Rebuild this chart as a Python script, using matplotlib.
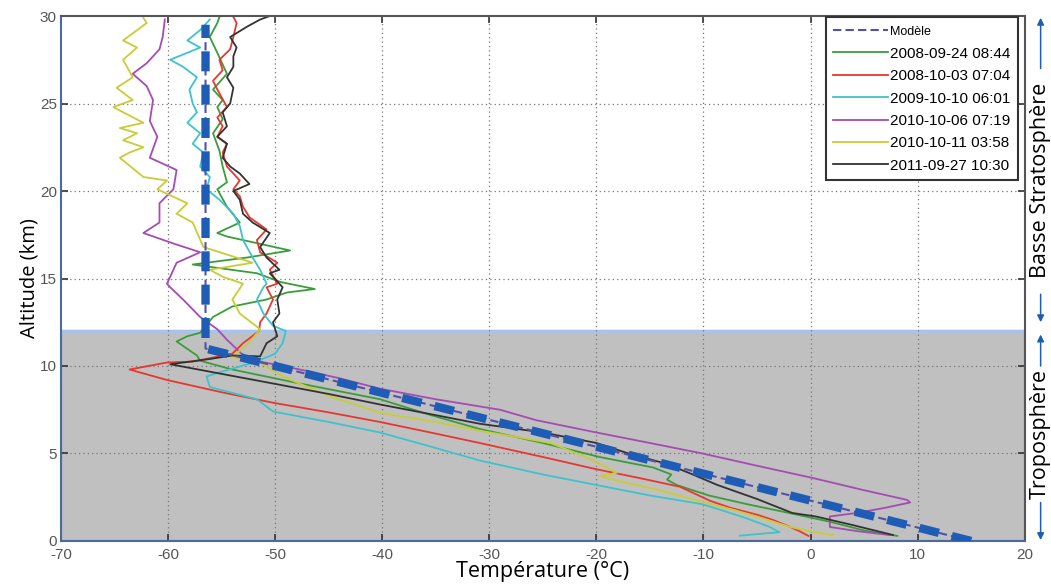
import numpy as np
import matplotlib
matplotlib.use('Agg')
import matplotlib.pyplot as plt
from matplotlib.patches import Rectangle

plt.rcParams['axes.unicode_minus'] = False

# ---------------- data (temperature in degC, altitude in km) ----------------
model_T = [15, -56.5, -56.5]
model_h = [0, 11, 29.5]

green_T = [8.1, 5.0, 1.8, -2.0, -5.9, -9.5, -12.5, -13.4, -13.0, -14.7, -19.7, -25.0, -30.9,
           -35.5, -40.2, -47.7, -54.0, -57.0, -57.3, -59.2, -58.2, -57.0, -55.8, -54.0, -50.8,
           -48.9, -46.3, -49.5, -51.7, -57.7, -52.6, -48.6, -54.5, -55.4, -53.3, -54.5, -55.4,
           -54.5, -54.9, -55.2, -55.8, -54.9, -55.4, -54.9, -55.8, -54.5, -55.4, -56.1, -55.4, -55.2]
green_h = [0.29, 0.6, 1.1, 1.6, 2.1, 2.6, 3.2, 3.5, 3.8, 4.2, 4.8, 5.6, 6.4,
           7.2, 8.1, 9.0, 9.8, 10.3, 10.6, 11.4, 11.7, 11.9, 12.8, 13.4, 13.8,
           14.2, 14.4, 14.8, 15.3, 15.8, 16.2, 16.6, 17.4, 17.6, 18.2, 19.1, 20.1,
           20.5, 21.4, 22.3, 23.3, 24.1, 24.8, 25.2, 25.8, 26.7, 27.9, 28.8, 29.6, 29.95]

red_T = [-0.2, -1.0, -1.9, -3.5, -5.0, -7.5, -9.4, -12.2, -16.0, -20.0, -25.0, -30.9, -35.5,
         -40.2, -45.0, -50.2, -55.0, -60.1, -63.6, -60.1, -57.7, -54.0, -53.0, -51.5, -51.4,
         -50.8, -50.2, -50.8, -49.8, -50.5, -49.8, -51.4, -51.7, -50.8, -52.4, -53.0, -53.3,
         -53.9, -53.3, -54.5, -54.9, -54.5, -55.4, -54.9, -55.4, -54.5, -55.4, -55.8, -54.9,
         -55.2, -54.2, -53.9, -53.6, -53.9]
red_h = [0.29, 0.55, 0.8, 1.2, 1.5, 1.9, 2.3, 3.1, 3.6, 4.1, 4.8, 5.6, 6.2,
         6.8, 7.35, 7.9, 8.5, 9.2, 9.8, 10.2, 10.25, 10.7, 11.3, 12.0, 12.5,
         13.0, 13.8, 14.5, 14.7, 15.5, 15.9, 16.5, 17.2, 17.8, 18.5, 19.1, 19.7,
         20.1, 20.6, 21.4, 22.2, 22.7, 23.1, 23.7, 24.2, 24.8, 25.8, 26.3, 26.9,
         27.5, 28.1, 28.8, 29.6, 29.95]

cyan_T = [-6.6, -4.5, -2.9, -3.8, -6.0, -8.0, -10.1, -15.0, -20.0, -25.0, -30.9, -35.5, -40.2,
          -45.0, -50.2, -51.7, -56.1, -56.4, -55.4, -52.0, -50.0, -49.3, -49.0, -50.2, -51.1,
          -51.7, -51.1, -50.8, -51.4, -52.1, -53.0, -53.3, -53.9, -55.2, -56.4, -56.1, -57.0,
          -56.7, -57.7, -57.0, -58.2, -57.3, -57.7, -58.0, -57.3, -58.6, -59.8, -58.2, -57.0,
          -58.2, -57.0, -56.1]
cyan_h = [0.3, 0.42, 0.5, 0.8, 1.3, 1.7, 2.1, 2.6, 3.2, 3.8, 4.6, 5.4, 6.2,
          6.8, 7.4, 8.1, 8.8, 9.4, 9.6, 10.2, 10.7, 11.3, 12.0, 12.3, 13.0,
          13.8, 14.5, 14.7, 15.5, 16.2, 17.2, 18.0, 18.7, 19.5, 20.1, 20.8, 21.4,
          22.2, 22.7, 23.3, 23.9, 24.5, 25.0, 25.8, 26.5, 27.1, 27.5, 27.9, 28.2,
          28.6, 29.2, 29.8]

magenta_T = [7.4, 4.5, 1.8, 1.8, 4.3, 7.0, 9.3, 9.0, 5.0, 0.2, -5.0, -10.1, -15.0, -20.0,
             -25.6, -29.0, -35.0, -40.2, -44.0, -47.7, -52.6, -53.3, -54.5, -55.4, -57.0, -58.6,
             -59.8, -60.1, -59.2, -57.0, -59.5, -62.3, -60.8, -60.8, -59.5, -59.2, -61.7, -61.0,
             -61.7, -61.4, -62.0, -63.3, -62.0, -60.8, -60.5, -60.3]
magenta_h = [0.34, 0.55, 0.8, 1.4, 1.6, 1.9, 2.2, 2.35, 2.9, 3.6, 4.3, 5.0, 5.6, 6.2,
             6.9, 7.5, 8.1, 8.7, 9.3, 9.8, 10.4, 10.8, 11.5, 12.1, 12.8, 13.8,
             14.5, 14.7, 15.9, 16.5, 17.0, 17.6, 18.2, 19.3, 20.1, 21.2, 21.9, 23.1,
             24.0, 25.2, 26.0, 26.7, 27.3, 28.1, 28.8, 29.8]

yellow_T = [2.1, 0.0, -1.9, -4.5, -7.3, -10.5, -14.1, -17.0, -19.7, -18.1, -21.0, -24.3, -27.5,
            -30.9, -35.0, -40.0, -44.6, -49.3, -51.7, -54.0, -52.5, -51.4, -53.3, -54.0, -53.0,
            -54.9, -56.1, -52.1, -56.7, -57.7, -59.2, -58.2, -61.0, -60.1, -62.3, -64.5, -63.6,
            -62.3, -64.2, -62.9, -64.5, -62.3, -64.2, -65.1, -63.3, -64.8, -63.3, -64.2, -62.9,
            -64.2, -62.0, -62.3]
yellow_h = [0.34, 0.55, 0.8, 1.3, 1.8, 2.3, 2.9, 3.3, 3.7, 3.9, 4.8, 5.6, 5.95,
            6.3, 6.8, 7.3, 8.2, 9.4, 10.3, 10.5, 11.3, 12.1, 13.0, 13.8, 14.7,
            15.1, 15.5, 15.9, 16.8, 18.2, 18.7, 19.3, 20.1, 20.6, 20.8, 21.9, 22.2,
            22.5, 22.9, 23.3, 23.6, 23.9, 24.5, 24.8, 25.2, 25.9, 26.5, 27.5, 28.2,
            28.6, 29.6, 29.9]

black_T = [7.7, 4.0, 0.5, -1.7, -5.0, -8.7, -11.0, -13.4, -17.0, -20.0, -25.0, -30.9, -35.5,
           -40.2, -45.0, -50.2, -55.0, -59.8, -56.1, -54.0, -51.4, -50.8, -49.8, -50.2, -49.6,
           -49.8, -49.3, -49.6, -50.5, -49.6, -50.8, -51.4, -50.5, -52.1, -53.0, -53.3, -53.9,
           -52.4, -53.3, -54.2, -54.9, -54.5, -55.4, -54.5, -54.9, -54.2, -53.9, -54.5, -53.9,
           -53.9, -53.6, -54.2, -52.6, -51.4, -50.5]
black_h = [0.34, 0.9, 1.4, 1.6, 2.4, 3.2, 3.8, 4.4, 5.0, 5.6, 6.2, 6.7, 7.25,
           7.8, 8.4, 9.0, 9.55, 10.1, 10.4, 10.6, 10.55, 11.3, 11.7, 12.5, 13.0,
           13.8, 14.5, 14.7, 15.3, 15.5, 16.2, 16.8, 17.6, 18.2, 18.7, 19.5, 20.0,
           20.4, 21.0, 21.4, 21.9, 22.7, 23.1, 23.7, 24.5, 25.0, 25.9, 26.5, 27.1,
           27.7, 28.2, 28.8, 29.4, 29.8, 30.0]

series = [
    ('2008-09-24 08:44', green_T, green_h, '#3a9d3a'),
    ('2008-10-03 07:04', red_T, red_h, '#e8372e'),
    ('2009-10-10 06:01', cyan_T, cyan_h, '#3ec3cc'),
    ('2010-10-06 07:19', magenta_T, magenta_h, '#a64bb4'),
    ('2010-10-11 03:58', yellow_T, yellow_h, '#c9cc35'),
    ('2011-09-27 10:30', black_T, black_h, '#333333'),
]

x_ticks = [-70, -60, -50, -40, -30, -20, -10, 0, 10, 20]
y_ticks = [0, 5, 10, 15, 20, 25, 30]
tropo_top = 12

# ---------------- figure ----------------
fig = plt.figure(figsize=(10.51, 5.87), dpi=100)
ax = fig.add_axes([0.058, 0.0784, 0.917, 0.8943])

# troposphere shading
ax.add_patch(Rectangle((-70, 0), 90, tropo_top, facecolor='#c0c0c0',
                       edgecolor='#4a6aa0', linewidth=1.5, zorder=0))
ax.axhline(tropo_top, color='#a9c3e8', linewidth=2.5, zorder=1)

# grid
for xv in x_ticks[1:-1]:
    ax.axvline(xv, color='#777777', linewidth=0.9, linestyle=(0, (1, 2.5)), zorder=1)
for yv in y_ticks[1:-1]:
    ax.axhline(yv, color='#777777', linewidth=0.9, linestyle=(0, (1, 2.5)), zorder=1)

# model (thin line that goes in legend)
ax.plot(model_T, model_h, color='#5252aa', linestyle='--', linewidth=1.5,
        dashes=(4, 2), label='Modèle', zorder=3)

for name, T, h, col in series:
    ax.plot(T, h, color=col, linewidth=1.3, label=name, zorder=2)

# thick emphasis of the model profile
ax.plot(model_T, model_h, color='#1f5cb5', linewidth=6, linestyle=(0, (2.4, 1.6)),
        solid_capstyle='butt', dash_capstyle='butt', zorder=4)

ax.set_xlim(-70, 20)
ax.set_ylim(0, 30)
ax.set_xticks(x_ticks)
ax.set_yticks(y_ticks)
ax.tick_params(direction='in', length=5, width=1.2, color='#333333',
               top=True, right=True, labelsize=11, labelcolor='#555555')
ax.tick_params(axis='x', pad=5)
ax.tick_params(axis='y', pad=3)
for lab in ax.get_xticklabels() + ax.get_yticklabels():
    lab.set_family('Liberation Sans')
for s in ['top', 'right']:
    ax.spines[s].set_color('#555555')
    ax.spines[s].set_linewidth(1.5)
for s in ['left', 'bottom']:
    ax.spines[s].set_color('#4a6aa0')
    ax.spines[s].set_linewidth(1.5)

ax.set_xlabel('Température (°C)', fontsize=15.5, family='Open Sans', labelpad=-1)
ax.set_ylabel('Altitude (km)', fontsize=14.5, family='Open Sans', labelpad=0)

leg = ax.legend(loc='upper right', bbox_to_anchor=(0.993, 0.998), borderaxespad=0,
                fancybox=False, framealpha=1, edgecolor='#333333',
                prop={'family': 'Liberation Sans', 'size': 11},
                handlelength=3.6, handletextpad=0.1, labelspacing=0.55,
                borderpad=0.5)
leg.get_frame().set_linewidth(1.5)
leg.get_texts()[0].set_fontsize(9)
leg.set_zorder(6)

# right-hand layer annotations
tr = ax.get_yaxis_transform()
xa = 1.0165
arrow = dict(arrowstyle='-|>', color='#1f5cb5', lw=1.1, mutation_scale=10,
             shrinkA=0, shrinkB=0)
ax.annotate('', xy=(xa, 29.9), xytext=(xa, 27.0), xycoords=tr, textcoords=tr,
            arrowprops=arrow, annotation_clip=False)
ax.annotate('', xy=(xa, 12.5), xytext=(xa, 14.1), xycoords=tr, textcoords=tr,
            arrowprops=arrow, annotation_clip=False)
ax.annotate('', xy=(xa, 11.8), xytext=(xa, 10.0), xycoords=tr, textcoords=tr,
            arrowprops=arrow, annotation_clip=False)
ax.annotate('', xy=(xa, 0.05), xytext=(xa, 2.2), xycoords=tr, textcoords=tr,
            arrowprops=arrow, annotation_clip=False)
ax.text(xa, 20.6, 'Basse Stratosphère', transform=tr, rotation=90, ha='center',
        va='center', fontsize=15.5, family='Open Sans', clip_on=False)
ax.text(xa, 6.1, 'Troposphère', transform=tr, rotation=90, ha='center',
        va='center', fontsize=15.5, family='Open Sans', clip_on=False)

fig.savefig('out.png', dpi=100, facecolor='white')
